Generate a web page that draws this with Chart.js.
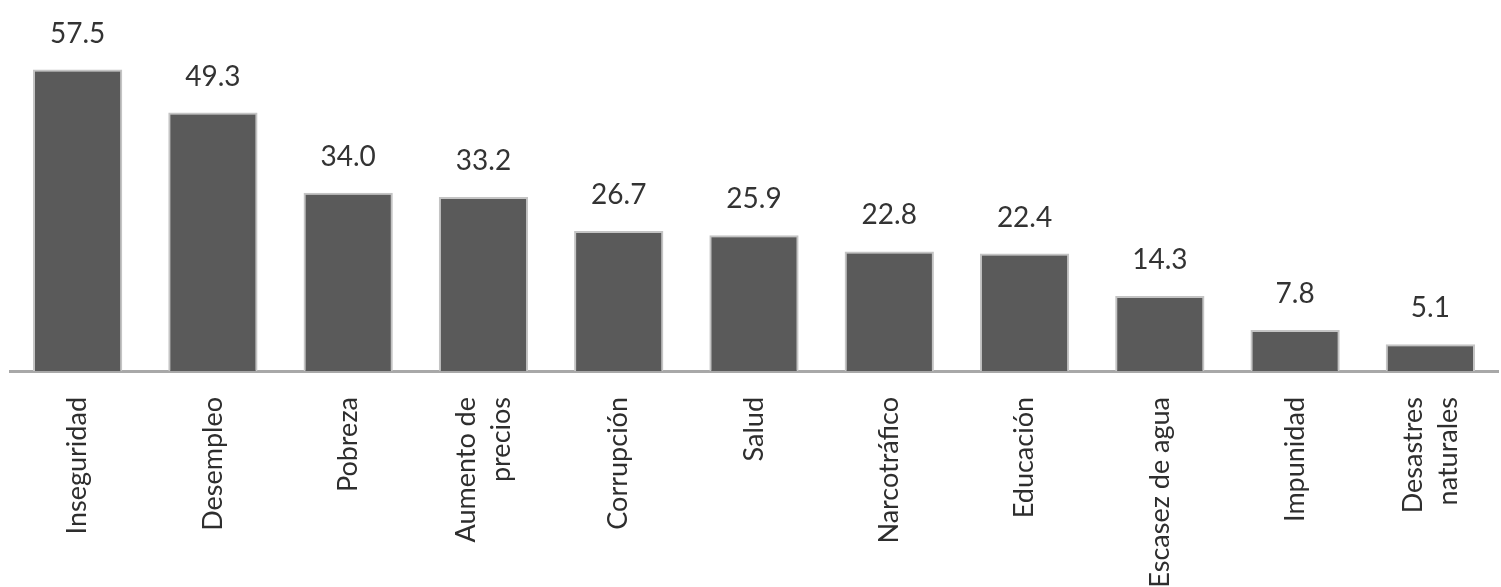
<!DOCTYPE html>
<html>
<head>
<meta charset="utf-8">
<script src="https://cdn.jsdelivr.net/npm/chart.js@4"></script>
<style>
  html, body { margin: 0; padding: 0; background: #ffffff; }
  #wrap { width: 1501px; height: 587px; }
</style>
</head>
<body>
<div id="wrap"><canvas id="chart"></canvas></div>
<script>
// categories and values
let categories = [
    'Inseguridad',
    'Desempleo',
    'Pobreza',
    ['Aumento de', 'precios'],
    'Corrupción',
    'Salud',
    'Narcotráfico',
    'Educación',
    'Escasez de agua',
    'Impunidad',
    ['Desastres', 'naturales']
];
let values = [57.5, 49.3, 34.0, 33.2, 26.7, 25.9, 22.8, 22.4, 14.3, 7.8, 5.1];

// value labels above each bar
let valueLabels = {
    id: 'valueLabels',
    afterDatasetsDraw(chart) {
        let ctx = chart.ctx;
        let meta = chart.getDatasetMeta(0);
        ctx.save();
        ctx.font = '28px Lato';
        ctx.fillStyle = '#333333';
        ctx.textAlign = 'center';
        ctx.textBaseline = 'bottom';
        meta.data.forEach(function (bar, i) {
            ctx.fillText(values[i].toFixed(1), bar.x, bar.y - 22);
        });
        ctx.restore();
    }
};

// center two-line rotated labels on their bar
let centerMultiLine = {
    id: 'centerMultiLine',
    beforeDraw(chart) {
        let scale = chart.scales.x;
        let items = scale.getLabelItems();
        let lineHeight = 27 * 1.3;
        items.forEach(function (item) {
            let tr = item.options ? item.options.translation : item.translation;
            if (tr && Array.isArray(item.label) && !item._shifted) {
                tr[0] -= lineHeight * (item.label.length - 1) / 2;
                item._shifted = true;
            }
        });
    }
};

let config = {
    type: 'bar',
    data: {
        labels: categories,
        datasets: [{
            data: values,
            backgroundColor: '#5a5a5a',
            borderColor: '#c4c4c4',
            borderWidth: 2,
            categoryPercentage: 1,
            barPercentage: 0.66
        }]
    },
    options: {
        responsive: true,
        maintainAspectRatio: false,
        animation: false,
        layout: {
            padding: { left: 10, right: 3, top: 4, bottom: 0 }
        },
        plugins: {
            legend: { display: false },
            tooltip: { enabled: false }
        },
        scales: {
            x: {
                grid: { display: false, drawOnChartArea: false },
                border: { display: true, color: '#a8a8a8', width: 3 },
                ticks: {
                    color: '#2e2e2e',
                    font: { family: 'Lato', size: 27, lineHeight: 1.3 },
                    minRotation: 90,
                    maxRotation: 90,
                    autoSkip: false,
                    padding: 18
                },
                afterFit(scale) {
                    // fixed band for the rotated labels, no side padding
                    scale.height = 216;
                    scale.paddingLeft = 0;
                    scale.paddingRight = 0;
                }
            },
            y: {
                display: false,
                min: 0,
                max: 70
            }
        }
    },
    plugins: [valueLabels, centerMultiLine]
};

let chart = new Chart(document.getElementById('chart'), config);
</script>
</body>
</html>
